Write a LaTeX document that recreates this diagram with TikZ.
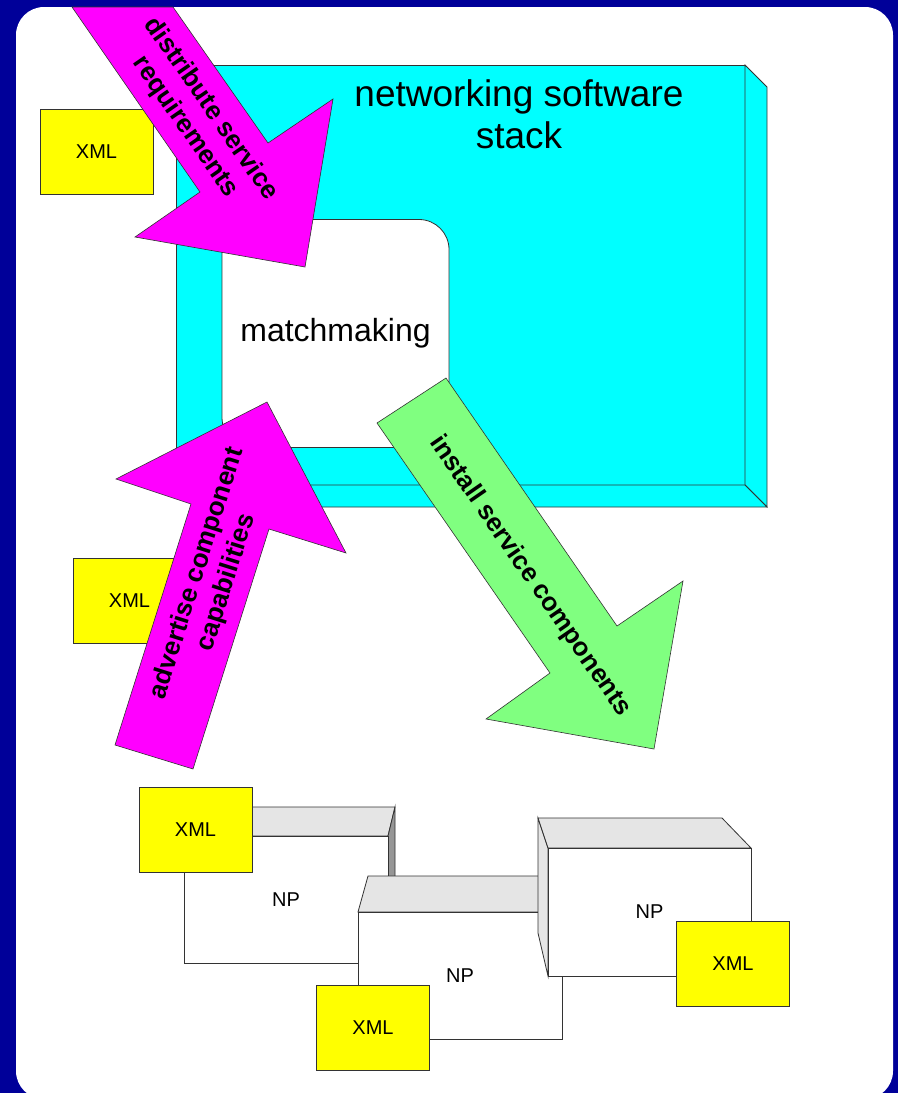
\documentclass[tikz,border=0pt]{standalone}
\usepackage{fontspec}
\setmainfont{Liberation Sans}
\usetikzlibrary{positioning}

\definecolor{slideblue}{RGB}{0, 0, 153}
\definecolor{stackcyan}{RGB}{0, 255, 255}
\definecolor{arrowpink}{RGB}{255, 0, 255}
\definecolor{arrowgreen}{RGB}{128, 255, 128}
\definecolor{xmlyellow}{RGB}{255, 255, 0}
\definecolor{facegrey}{RGB}{229, 229, 229}
\definecolor{sidegrey}{RGB}{150, 150, 150}

\newcommand{\fsz}[1]{\fontsize{#1}{#1}\selectfont}

\begin{document}
\begin{tikzpicture}[x=1pt, y=-1pt,
    outline/.style={draw=black!80, line width=0.8pt, outer sep=0pt},
    xmlbox/.style={outline, fill=xmlyellow, minimum width=113pt, minimum height=85pt,
                   inner sep=0pt, font=\fsz{20}},
    npface/.style={outline, fill=white, minimum width=204pt, minimum height=127pt,
                   inner sep=0pt, font=\fsz{20}},
    arrowtext/.style={font=\bfseries\fontsize{26}{31}\selectfont, align=center, inner sep=0pt}]

      % slide frame
      \fill[slideblue] (0,0) rectangle (898,1093);
      \useasboundingbox (0,0) rectangle (898,1093);
      \fill[white, rounded corners=28pt] (16,7) rectangle (893,1099);

      % networking software stack
      \node[outline, fill=stackcyan, minimum width=569pt, minimum height=420pt,
            inner sep=0pt] (stack) at (460.5,275) {};
      \draw[outline, fill=stackcyan] (stack.north east) -- ++(22,22) -- ++(0,420)
            -- (stack.south east) -- cycle;
      \draw[outline, fill=stackcyan] (stack.south west) -- (stack.south east)
            -- ++(22,22) -- ++(-569,0) -- cycle;
      \node[font=\fontsize{37}{42}\selectfont, align=center] (stacklabel) at (519,114)
            {networking software\\stack};

      \node[outline, fill=white, rounded corners=30pt, minimum width=227pt,
            minimum height=228pt, inner sep=0pt, font=\fsz{32}] (match) at (335.5,333.5)
            {matchmaking};

      \node[xmlbox] (xmlA) at (96.5,152) {XML};
      \node[xmlbox] (xmlB) at (129.5,601) {XML};

      % arrows
      \draw[outline, line width=0.6pt, fill=arrowpink] (72,7) -- (200,192) -- (135,237)
            -- (305,267) -- (333,99) -- (268,143) -- (173,7) -- cycle;
      \node[arrowtext, rotate=-55.3] (distlabel) at (198,118)
            {distribute service\\requirements};

      \draw[outline, line width=0.6pt, fill=arrowpink] (267,402) -- (116,479) -- (191,504)
            -- (115,745) -- (193,769) -- (269,529) -- (346,553) -- cycle;
      \node[arrowtext, rotate=72.5] (advlabel) at (212,578)
            {advertise component\\capabilities};

      \draw[outline, line width=0.6pt, fill=arrowgreen] (377,423) -- (446,378) -- (617,626)
            -- (683,581) -- (654,749) -- (486,719) -- (550,673) -- cycle;
      \node[arrowtext, rotate=-55.3] (instlabel) at (530,576)
            {install service components};

      % network processors
      \draw[outline, fill=facegrey] (191,807) -- (395,807) -- (388,836) -- (184,836) -- cycle;
      \draw[outline, fill=sidegrey] (388,836) -- (395,807) -- (395,934) -- (388,963) -- cycle;
      \node[npface] (npA) at (286,899.5) {NP};
      \node[xmlbox] (xmlC) at (195.5,830) {XML};

      \draw[outline, fill=facegrey] (368,876) -- (572,876) -- (562,912) -- (358,912) -- cycle;
      \node[npface] (npB) at (460,975.5) {NP};
      \node[xmlbox] (xmlD) at (373,1028) {XML};

      \draw[outline, fill=facegrey] (538,818) -- (548,848) -- (548,976) -- (538,933) -- cycle;
      \draw[outline, fill=facegrey] (538,818) -- (722,818) -- (751,848) -- (548,848) -- cycle;
      \node[npface, minimum width=203pt, minimum height=128pt] (npC) at (649.5,912) {NP};
      \node[xmlbox] (xmlE) at (733,963.5) {XML};
    \end{tikzpicture}
\end{document}
